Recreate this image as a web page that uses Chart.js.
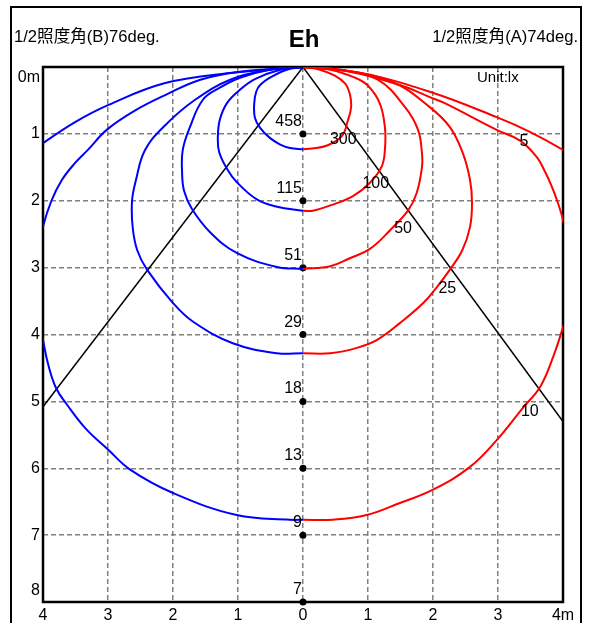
<!DOCTYPE html>
<html><head><meta charset="utf-8">
<script src="https://cdn.jsdelivr.net/npm/chart.js@4.4.0/dist/chart.umd.min.js"></script>
<style>html,body{margin:0;padding:0;background:#fff;}canvas{display:block;}</style>
</head><body>
<canvas id="c" width="590" height="623"></canvas>
<script>
const xTickLabels = ["4","3","2","1","0","1","2","3","4m"];
const yTickLabels = ["0m","1","2","3","4","5","6","7","8"];
const centerDepths = [1,2,3,4,5,6,7,8];
const centerValues = ["458","115","51","29","18","13","9","7"];
const contourLevels = ["300","100","50","25","10","5"];
const contourLabelX = [0.62,1.12,1.54,2.22,3.49,3.4];
const contourLabelY = [1.08,1.75,2.41,3.32,5.16,1.11];

// contour halves (B side = left/blue, A side = right/red), [x m, depth m]
const left300 = [[0,0],[-0.25,0.04],[-0.51,0.16],[-0.66,0.27],[-0.72,0.37],[-0.75,0.54],[-0.74,0.76],[-0.66,0.91],[-0.51,1.06],[-0.35,1.16],[-0.2,1.21],[0,1.23]];
const right300 = [[0,0],[0.26,0.04],[0.49,0.13],[0.65,0.25],[0.72,0.4],[0.74,0.6],[0.69,0.8],[0.6,1.03],[0.38,1.17],[0.14,1.22],[0,1.23]];
const left100 = [[0,0],[-0.35,0.04],[-0.74,0.18],[-0.97,0.34],[-1.17,0.54],[-1.28,0.79],[-1.31,1.05],[-1.29,1.27],[-1.17,1.52],[-1.02,1.72],[-0.71,1.98],[-0.4,2.09],[0,2.15]];
const right100 = [[0,0],[0.42,0.04],[0.8,0.16],[1.0,0.28],[1.18,0.54],[1.26,0.9],[1.26,1.24],[1.21,1.49],[1.03,1.73],[0.77,1.93],[0.42,2.07],[0.15,2.15],[0,2.15]];
const left50 = [[0,0],[-0.51,0.04],[-0.97,0.16],[-1.28,0.31],[-1.54,0.49],[-1.74,0.9],[-1.85,1.24],[-1.86,1.58],[-1.83,1.85],[-1.71,2.12],[-1.43,2.47],[-1.02,2.78],[-0.4,2.99],[0,3.02]];
const right50 = [[0,0],[0.57,0.04],[1.15,0.19],[1.57,0.6],[1.77,0.94],[1.83,1.29],[1.83,1.5],[1.75,1.88],[1.62,2.14],[1.34,2.44],[1.03,2.72],[0.72,2.86],[0.42,2.98],[0,3.02]];
const left25 = [[0,0],[-0.51,0.04],[-1.12,0.19],[-1.66,0.49],[-2.12,0.87],[-2.43,1.24],[-2.57,1.69],[-2.63,2.0],[-2.62,2.4],[-2.55,2.74],[-2.4,3.03],[-2.0,3.53],[-1.69,3.81],[-1.08,4.13],[-0.4,4.28],[0,4.28]];
const right25 = [[0,0],[0.57,0.04],[1.37,0.22],[1.95,0.6],[2.26,0.9],[2.46,1.29],[2.57,1.69],[2.6,2.03],[2.57,2.39],[2.45,2.74],[2.26,3.03],[2.06,3.29],[1.85,3.53],[1.49,3.83],[1.14,4.08],[0.83,4.2],[0.42,4.28],[0,4.28]];
const left10 = [[0,0],[-0.97,0.07],[-1.58,0.19],[-2.12,0.42],[-2.6,0.66],[-3.02,0.94],[-3.31,1.24],[-3.52,1.45],[-3.71,1.69],[-3.87,2.0],[-4,2.39],[-4.12,3.0],[-4.1,3.6],[-4,4.08],[-3.92,4.45],[-3.8,4.8],[-3.63,5.05],[-3.35,5.4],[-3.0,5.72],[-2.66,6.02],[-2.0,6.37],[-1.02,6.7],[-0.2,6.77],[0,6.77]];
const right10 = [[0,0],[0.72,0.07],[1.49,0.27],[1.95,0.45],[2.18,0.54],[2.98,0.94],[3.34,1.1],[3.6,1.35],[3.72,1.56],[3.82,1.77],[3.91,2.0],[4,2.29],[4.13,3.0],[4.1,3.5],[4,3.89],[3.85,4.33],[3.65,4.78],[3.38,5.1],[2.98,5.58],[2.57,5.98],[2.0,6.32],[1.49,6.52],[0.98,6.7],[0.46,6.77],[0,6.77]];
const left5 = [[0,0],[-1.12,0.09],[-2.12,0.24],[-3.0,0.57],[-3.5,0.82],[-4,1.14],[-4.5,1.5]];
const right5 = [[0,0],[0.88,0.09],[1.95,0.37],[2.98,0.75],[3.49,0.97],[4,1.24],[4.5,1.55]];

const beamB = [[-4,5.08],[0,0]];
const beamA = [[0,0],[4,5.3]];

const FONT = "'Liberation Sans', Arial, 'Noto Sans CJK JP', sans-serif";
const toXY = arr => arr.map(p => ({x:p[0], y:p[1]}));
const contour = (arr, color) => ({data:toXY(arr), showLine:true, borderColor:color, borderWidth:2, pointRadius:0, tension:0.4, fill:false});

const datasets = [
  contour(left300,'#0000ff'), contour(right300,'#ff0000'),
  contour(left100,'#0000ff'), contour(right100,'#ff0000'),
  contour(left50,'#0000ff'), contour(right50,'#ff0000'),
  contour(left25,'#0000ff'), contour(right25,'#ff0000'),
  contour(left10,'#0000ff'), contour(right10,'#ff0000'),
  contour(left5,'#0000ff'), contour(right5,'#ff0000'),
  {data:toXY(beamB), showLine:true, borderColor:'#000', borderWidth:1.5, pointRadius:0, tension:0},
  {data:toXY(beamA), showLine:true, borderColor:'#000', borderWidth:1.5, pointRadius:0, tension:0},
  {data:centerDepths.map(d=>({x:0,y:d})), showLine:false, pointRadius:3.5, backgroundColor:'#000', borderWidth:0, clip:false}
];

const decor = {
  id:'decor',
  beforeDatasetsDraw(chart){
    const {ctx, chartArea:a} = chart;
    ctx.save();
    ctx.strokeStyle = '#000'; ctx.lineWidth = 2.5;
    ctx.strokeRect(a.left, a.top, a.right-a.left, a.bottom-a.top);
    ctx.restore();
  },
  afterDraw(chart){
    const {ctx, chartArea:a, scales:{x, y}} = chart;
    ctx.save();
    // outer frame
    ctx.strokeStyle = '#000'; ctx.lineWidth = 2;
    ctx.strokeRect(11, 7, 570, 700);
    ctx.fillStyle = '#000';
    // title
    ctx.font = "bold 24px " + FONT;
    ctx.textAlign = 'center'; ctx.textBaseline = 'middle';
    ctx.fillText('Eh', 304, 40);
    ctx.font = "16.6px " + FONT;
    ctx.textAlign = 'left';
    ctx.fillText('1/2照度角(B)76deg.', 14, 37);
    ctx.textAlign = 'right';
    ctx.fillText('1/2照度角(A)74deg.', 578, 37);
    ctx.font = "15px " + FONT;
    ctx.textAlign = 'left';
    ctx.fillText('Unit:lx', 477, 78);
    // y axis labels
    ctx.font = "16px " + FONT;
    ctx.textAlign = 'right'; ctx.textBaseline = 'middle';
    yTickLabels.forEach((t,i)=>{
      let py = y.getPixelForValue(i);
      if (i === 0) py += 11;
      if (i === yTickLabels.length-1) py -= 11;
      ctx.fillText(t, a.left - 3, py);
    });
    // centre values
    ctx.textAlign = 'right'; ctx.textBaseline = 'alphabetic';
    centerDepths.forEach((d,i)=>{
      ctx.fillText(centerValues[i], x.getPixelForValue(0) - 1, y.getPixelForValue(d) - 8);
    });
    // contour level labels
    ctx.textAlign = 'center'; ctx.textBaseline = 'middle';
    contourLevels.forEach((t,i)=>{
      ctx.fillText(t, x.getPixelForValue(contourLabelX[i]), y.getPixelForValue(contourLabelY[i]));
    });
    ctx.restore();
  }
};

new Chart(document.getElementById('c'), {
  type:'scatter',
  data:{datasets},
  options:{
    responsive:false, animation:false, devicePixelRatio:1,
    layout:{padding:{top:67, right:27, left:0, bottom:0}},
    plugins:{legend:{display:false}, tooltip:{enabled:false}, title:{display:false}},
    scales:{
      x:{type:'linear', min:-4, max:4,
        afterFit(s){ s.height = 21; },
        ticks:{stepSize:1, autoSkip:false, maxRotation:0, padding:4, color:'#000',
          font:{family:FONT, size:16}, callback:(v,i)=>xTickLabels[i]},
        grid:{color:'#808080', lineWidth:1.5, drawTicks:false},
        border:{display:false, dash:[5,3]}},
      y:{type:'linear', min:0, max:8, reverse:true,
        afterFit(s){ s.width = 43; },
        ticks:{stepSize:1, display:false},
        grid:{color:'#808080', lineWidth:1.5, drawTicks:false},
        border:{display:false, dash:[5,3]}}
    }
  },
  plugins:[decor]
});
</script>
</body></html>
